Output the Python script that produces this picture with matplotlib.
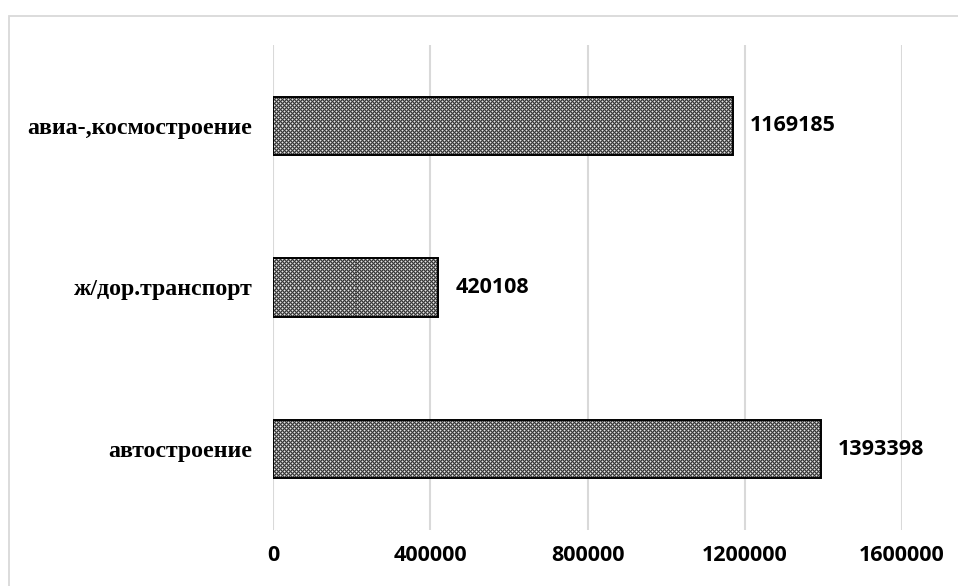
import numpy as np
import matplotlib
matplotlib.use("Agg")
import matplotlib.pyplot as plt
from matplotlib.patches import Rectangle

categories = ["автостроение", "ж/дор.транспорт", "авиа-,космостроение"]
values = [1393398, 420108, 1169185]
xticks = [0, 400000, 800000, 1200000, 1600000]
xtick_labels = ["0", "400000", "800000", "1200000", "1600000"]

W, H, DPI = 958, 586, 100
fig = plt.figure(figsize=(W / DPI, H / DPI), dpi=DPI)
ax = fig.add_axes([273 / W, 1 - 530 / H, (902 - 273) / W, (530 - 45) / H])

num_font = "Open Sans"
serif = "Liberation Serif"

y = np.arange(len(categories))
bars = ax.barh(y, values, height=0.36, color="none", edgecolor="black", linewidth=1.4, zorder=3)

ax.set_xlim(0, 1600000)
ax.set_ylim(-0.5, len(categories) - 0.5)

# fine checker texture inside bars
tex = np.array([[0.22, 0.50, 0.22, 0.50],
                [0.50, 0.90, 0.50, 0.22],
                [0.22, 0.50, 0.22, 0.50],
                [0.50, 0.22, 0.50, 0.90]])
big = np.tile(tex, (30, 300))
for b in bars:
    x0, y0 = b.get_x(), b.get_y()
    w, h = b.get_width(), b.get_height()
    p0 = ax.transData.transform((x0, y0))
    p1 = ax.transData.transform((x0 + w, y0 + h))
    nx = max(int(round(p1[0] - p0[0])), 1)
    ny = max(int(round(p1[1] - p0[1])), 1)
    im = ax.imshow(big[:ny, :nx], cmap="gray", vmin=0, vmax=1, extent=(x0, x0 + w, y0, y0 + h),
                   aspect="auto", interpolation="nearest", zorder=2)
    im.set_clip_path(b)

ax.set_xticks(xticks)
ax.set_xticklabels(xtick_labels, fontfamily=num_font, fontweight="bold", fontsize=15.5)
ax.set_yticks(y)
ax.set_yticklabels(categories, fontfamily=serif, fontweight="bold", fontsize=17.2)
ax.tick_params(axis="both", length=0)
ax.tick_params(axis="x", pad=11)
ax.tick_params(axis="y", pad=15)

ax.grid(axis="x", color="#d9d9d9", linewidth=1.5, zorder=0)
ax.set_axisbelow(True)
for s in ax.spines.values():
    s.set_visible(False)

for b, v in zip(bars, values):
    ax.annotate(str(v), xy=(b.get_width(), b.get_y() + b.get_height() / 2),
                xytext=(17, 0), textcoords="offset pixels",
                va="center", ha="left", fontfamily=num_font, fontweight="bold", fontsize=15.5)

fig.patches.append(Rectangle((9 / W, -0.05), 1.2, 1 - 16 / H + 0.05, transform=fig.transFigure,
                             fill=False, edgecolor="#d9d9d9", linewidth=1.3))

fig.savefig("out.png", dpi=DPI)
